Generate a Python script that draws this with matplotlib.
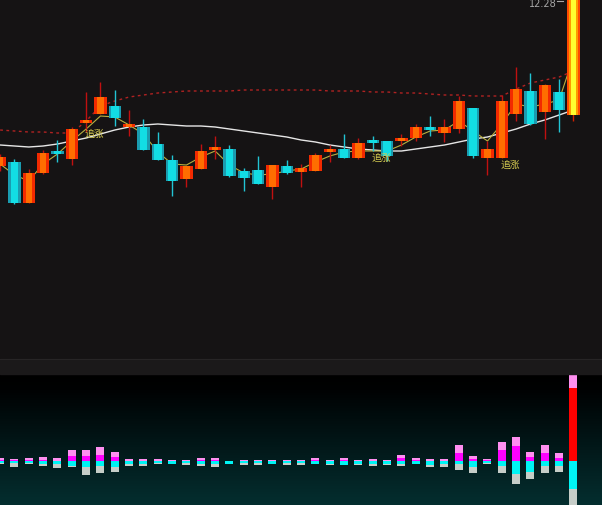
import numpy as np
import matplotlib
matplotlib.use('Agg')
from matplotlib import pyplot as plt
from matplotlib.colors import LinearSegmentedColormap

# K线数据 (开, 收, 高, 低)
opens = [10.61, 10.65, 10.24, 10.54, 10.76, 10.68, 11.04, 11.13, 11.21, 11.00,
         11.00, 10.83, 10.67, 10.48, 10.58, 10.77, 10.78, 10.56, 10.57, 10.40,
         10.61, 10.55, 10.56, 10.75, 10.78, 10.69, 10.86, 10.86, 10.86, 10.89,
         11.00, 10.94, 10.98, 11.19, 10.69, 10.69, 11.13, 11.36, 11.15, 11.35,
         11.12]
closes = [10.70, 10.24, 10.54, 10.74, 10.73, 10.98, 11.06, 11.30, 11.09, 11.03,
          10.77, 10.67, 10.46, 10.61, 10.76, 10.80, 10.51, 10.49, 10.43, 10.62,
          10.54, 10.59, 10.72, 10.78, 10.69, 10.84, 10.84, 10.71, 10.89, 11.00,
          10.97, 11.00, 11.26, 10.71, 10.78, 11.26, 11.38, 11.03, 11.42, 11.17,
          12.28]
highs = [10.73, 10.68, 10.58, 10.77, 10.87, 11.00, 11.35, 11.45, 11.37, 11.17,
         11.08, 10.95, 10.72, 10.61, 10.83, 10.91, 10.82, 10.59, 10.71, 10.62,
         10.67, 10.63, 10.74, 10.82, 10.93, 10.89, 10.91, 10.86, 10.93, 11.03,
         11.11, 11.08, 11.31, 11.19, 10.86, 11.32, 11.60, 11.54, 11.43, 11.48,
         12.28]
lows = [10.56, 10.23, 10.24, 10.53, 10.65, 10.62, 10.95, 11.13, 11.01, 10.91,
        10.77, 10.67, 10.31, 10.40, 10.58, 10.68, 10.50, 10.36, 10.43, 10.28,
        10.53, 10.40, 10.56, 10.65, 10.69, 10.68, 10.76, 10.66, 10.81, 10.86,
        10.91, 10.85, 10.94, 10.69, 10.52, 10.69, 11.06, 11.02, 10.88, 10.95,
        11.06]

# 均线
ma_white = [10.82, 10.81, 10.80, 10.81, 10.83, 10.86, 10.89, 10.93, 10.97, 11.00,
            11.02, 11.03, 11.02, 11.01, 11.01, 11.00, 10.98, 10.96, 10.94, 10.92,
            10.90, 10.87, 10.85, 10.82, 10.80, 10.78, 10.77, 10.76, 10.76, 10.78,
            10.80, 10.82, 10.85, 10.88, 10.90, 10.94, 10.98, 11.03, 11.07, 11.12,
            11.17]
ma_yellow = [10.63, 10.52, 10.46, 10.63, 10.73, 10.86, 10.98, 11.11, 11.10, 11.02,
             10.93, 10.75, 10.63, 10.62, 10.70, 10.76, 10.62, 10.54, 10.52, 10.53,
             10.56, 10.58, 10.65, 10.71, 10.75, 10.76, 10.76, 10.76, 10.82, 10.90,
             10.96, 10.97, 11.06, 10.96, 10.86, 11.03, 11.23, 11.20, 11.23, 11.27,
             11.70]
band_red = [10.97, 10.96, 10.95, 10.95, 10.94, 10.94, 11.06, 11.21, 11.26, 11.30,
            11.32, 11.34, 11.35, 11.36, 11.36, 11.36, 11.36, 11.37, 11.37, 11.37,
            11.37, 11.37, 11.37, 11.36, 11.36, 11.36, 11.35, 11.35, 11.34, 11.34,
            11.33, 11.32, 11.32, 11.31, 11.31, 11.31, 11.38, 11.44, 11.47, 11.50,
            11.56]

# 信号
signal_idx = [6, 26, 35]
signal_y = [10.945, 10.705, 10.63]
signal_text = '追涨'
last_label = '12.28'

# 下方资金柱
vol_pink = [2, 1.5, 2, 3, 2.5, 6, 6, 8, 5, 1.5, 1.5, 1.5, 0.5, 0.5, 2, 2, 0.3, 0.5,
            0.5, 0.8, 0.5, 0.5, 2, 1.2, 2, 1.2, 2, 0.5, 3, 2, 2, 2, 8, 3, 1, 8, 9,
            5, 8, 5, 14]
vol_magenta = [1, 1, 1, 1, 0.5, 5, 5, 6, 4, 0.5, 0.5, 0.5, 0.2, 0.2, 1, 1, 0.2, 0.2,
               0.2, 0.2, 0.2, 0.2, 1, 0.3, 1, 0.3, 0.5, 0.2, 3, 1, 0.5, 0.5, 8, 2, 1,
               11, 15, 4, 8, 3, 73]
vol_cyan = [2, 2, 2, 3, 3, 5, 6, 5, 6, 2.5, 3, 2, 2.5, 2, 2.5, 3, 2.5, 2, 2, 2.5,
            2, 2, 2.5, 3, 3.5, 3, 2.5, 2.5, 2.5, 2.5, 3.5, 2.5, 3, 6, 2, 5, 13, 11,
            5, 5, 28]
vol_gray = [1, 4, 1, 2, 4, 1, 8, 7, 5, 2.5, 2, 1, 0.5, 1.5, 2.5, 3, 0.5, 1.5, 1.5,
            0.5, 1.5, 1.5, 0.5, 0.5, 0.5, 0.5, 2.5, 1.5, 2.5, 0.5, 2.5, 3.5, 6, 6,
            1, 7, 10, 7, 7, 6, 20]


def main():
    n = len(opens)
    x = np.arange(n)
    xlim = (-0.01, 41.99)

    fig = plt.figure(figsize=(6.02, 5.06), dpi=100, facecolor='#151314')

    # 上方K线区
    ax = fig.add_axes([0, 146 / 506, 1, 360 / 506])
    ax.set_facecolor('#151314')
    ax.set_xlim(*xlim)
    ax.set_ylim(8.68, 12.28)
    ax.axis('off')

    ax.plot(x, ma_white, color='#e6e6e6', lw=1.0, zorder=2)
    ax.plot(x, ma_yellow, color='#b9b040', lw=0.8, zorder=2)
    ax.plot(x, band_red, color='#b02222', lw=1.0, ls=(0, (2, 2.5)), zorder=2)

    w = 0.86
    for i in range(n):
        o, c, h, l = opens[i], closes[i], highs[i], lows[i]
        bottom = min(o, c)
        height = max(abs(c - o), 0.025)
        if i == n - 1:
            ax.vlines(i, l, h, color='#d02000', lw=1, zorder=3)
            for frac, col in [(1.0, '#ff4a00'), (0.72, '#ff9a00'), (0.38, '#ffff30')]:
                ax.bar(i, height, w * frac, bottom, color=col, zorder=4)
        elif c >= o:
            ax.vlines(i, l, h, color='#c01010', lw=1, zorder=3)
            ax.bar(i, height, w, bottom, color='#f22a00', zorder=4)
            ax.bar(i, height, w * 0.5, bottom, color='#ff6e00', zorder=4)
        else:
            ax.vlines(i, l, h, color='#22c4d4', lw=1, zorder=3)
            ax.bar(i, height, w, bottom, color='#1a9cb0', zorder=4)
            ax.bar(i, height, w * 0.62, bottom, color='#12dde4', zorder=4)

    for i, yv in zip(signal_idx, signal_y):
        ax.text(i - 0.08, yv, signal_text, color='#d6cc50', fontsize=7,
                ha='left', va='center', zorder=5,
                family=['Noto Sans CJK SC', 'DejaVu Sans'])

    ax.text(38.8, 12.235, last_label, color='#a8a8a8', fontsize=7,
            ha='right', va='center', zorder=5)
    ax.plot([38.87, 39.3], [12.26, 12.26], color='#a8a8a8', lw=0.8, zorder=5)

    # 分隔条
    fig.patches.append(plt.Rectangle((0, 131 / 506), 1, 15 / 506,
                                     transform=fig.transFigure, color='#1b191a'))
    fig.add_artist(plt.Line2D([0, 1], [146 / 506, 146 / 506],
                              transform=fig.transFigure, color='#272526', lw=0.8))

    # 下方资金柱
    bx = fig.add_axes([0, 0, 1, 131 / 506])
    bx.set_xlim(*xlim)
    bx.set_ylim(-44, 87)
    bx.axis('off')
    cmap = LinearSegmentedColormap.from_list(
        'bg', [(0, '#000000'), (0.12, '#000203'), (1, '#042e2f')])
    grad = np.linspace(0, 1, 256).reshape(-1, 1)
    bx.imshow(grad, cmap=cmap, aspect='auto', extent=(xlim[0], xlim[1], -44, 87),
              zorder=0)

    bw = 0.56
    mag_colors = ['#ff00ff'] * (n - 1) + ['#ff0000']
    vp = np.array(vol_pink)
    vm = np.array(vol_magenta)
    vc = np.array(vol_cyan)
    vg = np.array(vol_gray)
    bx.bar(x, vm, bw, 0, color=mag_colors, zorder=2)
    bx.bar(x, vp, bw, vm, color='#ff8ff0', zorder=2)
    bx.bar(x, -vc, bw, 0, color='#00f4f4', zorder=2)
    bx.bar(x, -vg, bw, -vc, color='#c6cdc8', zorder=2)

    plt.savefig('out.png', dpi=100, facecolor=fig.get_facecolor())


if __name__ == '__main__':
    main()
